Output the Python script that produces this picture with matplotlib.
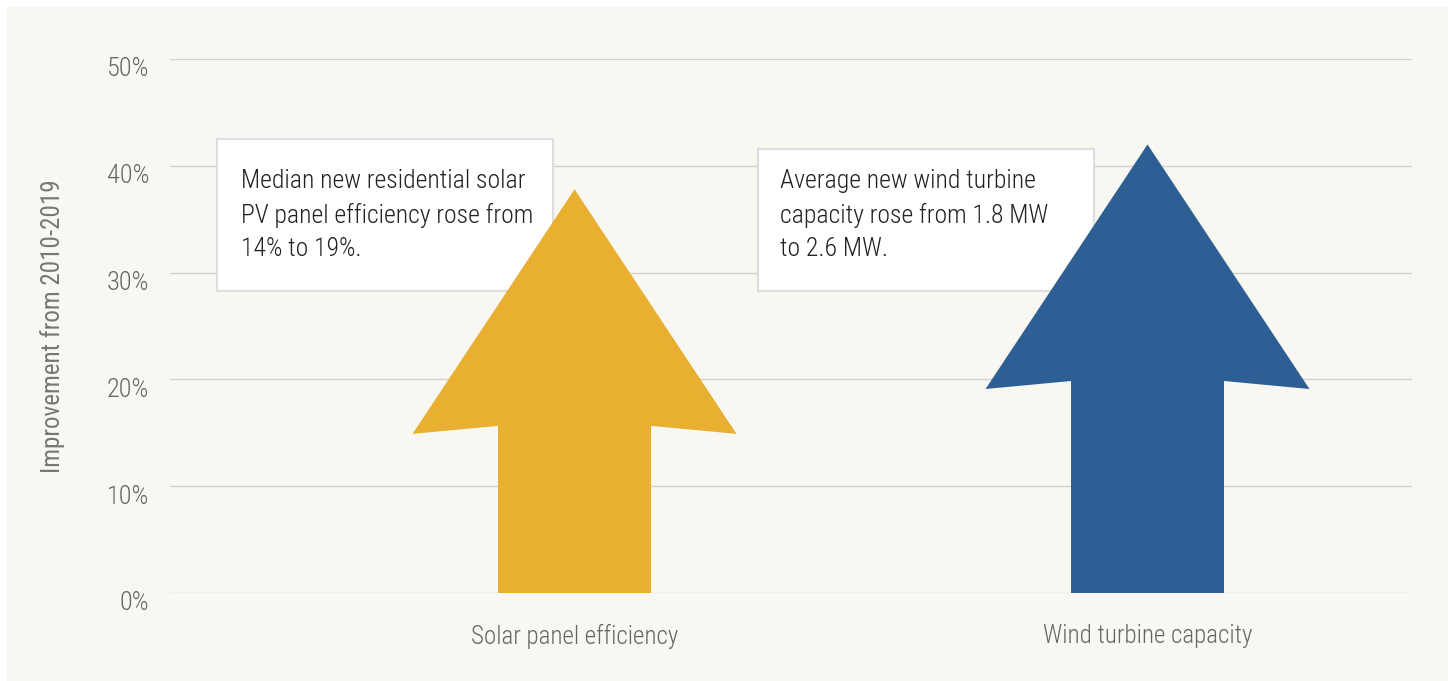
import matplotlib

matplotlib.use("Agg")
import matplotlib.pyplot as plt
from matplotlib import font_manager
from matplotlib.patches import Polygon, Rectangle
from matplotlib.transforms import ScaledTranslation

categories = ["Solar panel efficiency", "Wind turbine capacity"]
improvement = [37.8, 42.0]  # % improvement 2010-2019 (arrow tips)
colors = ["#E8AF30", "#2D5F95"]
notes = [
    "Median new residential solar\nPV panel efficiency rose from\n14% to 19%.",
    "Average new wind turbine\ncapacity rose from 1.8 MW\nto 2.6 MW.",
]
yticks = [0, 10, 20, 30, 40, 50]

available = {f.name for f in font_manager.fontManager.ttflist}
family = next(
    (f for f in ["Roboto Condensed", "Liberation Sans Narrow", "Open Sans Condensed", "Roboto"] if f in available),
    "DejaVu Sans",
)
plt.rcParams["font.family"] = [family, "DejaVu Sans"]
plt.rcParams["font.weight"] = "light"

W, H = 1448, 681
fig = plt.figure(figsize=(W / 100, H / 100), dpi=100, facecolor="white")


def fx(px):
    return px / W


def fy(py):
    return 1 - py / H


fig.patches.append(Rectangle((fx(7), 0), 1 - fx(7), fy(7), transform=fig.transFigure,
                             facecolor="#F8F7F2", edgecolor="none", zorder=-1))

axis = fig.add_axes([fx(170), fy(593), fx(1412) - fx(170), fy(59) - fy(593)])
axis.set_facecolor("none")
axis.set_xlim(-0.706, 1.4616)
axis.set_ylim(0, 50)
axis.set_yticks(yticks)
axis.set_yticklabels([f"{t}%" for t in yticks], fontsize=19, color="#666666")
axis.tick_params(axis="y", length=0, pad=15)
# labels sit a little below their grid lines
shift = ScaledTranslation(0, -8 / 100, fig.dpi_scale_trans)
for label in axis.get_yticklabels():
    label.set_transform(label.get_transform() + shift)
axis.set_xticks([0, 1])
axis.set_xticklabels(categories, fontsize=18, color="#666666")
axis.tick_params(axis="x", length=0, pad=22)
axis.grid(axis="y", color="#D3D1CB", lw=1)
axis.set_axisbelow(True)
for side in axis.spines.values():
    side.set_visible(False)
axis.set_ylabel("Improvement from 2010-2019", fontsize=18, color="#777777", labelpad=30)

shaft, head, head_len, drop = 0.1335, 0.2827, 22.15, 0.75
for i, (value, color) in enumerate(zip(improvement, colors)):
    base = value - head_len
    pts = [(i - shaft, 0), (i - shaft, base), (i - head, base - drop), (i, value),
           (i + head, base - drop), (i + shaft, base), (i + shaft, 0)]
    axis.add_patch(Polygon(pts, closed=True, facecolor=color, edgecolor="none", zorder=3))

# note boxes sit over the grid but under the arrows
boxes = [(216.7, 139.3, 552.7, 291), (757.7, 149, 1094.3, 291)]
text_left = [241, 780]
for (x0, y0, x1, y1), left, note in zip(boxes, text_left, notes):
    axis.add_patch(Rectangle((fx(x0), fy(y1)), fx(x1) - fx(x0), fy(y0) - fy(y1),
                             transform=fig.transFigure, facecolor="white",
                             edgecolor="#DDDDDD", lw=1.5, zorder=2, clip_on=False))
    axis.text(fx(left), fy(169), note, transform=fig.transFigure, fontsize=18.5,
              color="#222222", va="top", ha="left", linespacing=1.48, zorder=4)

fig.savefig("out.png", dpi=100, facecolor="white")
